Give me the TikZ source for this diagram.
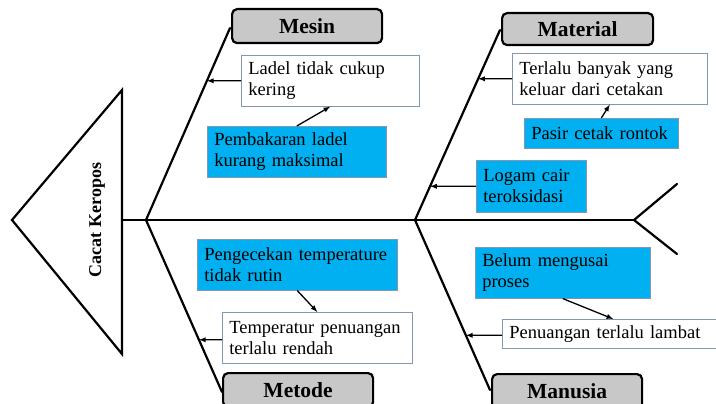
\documentclass[tikz,border=0pt]{standalone}
\usepackage{xcolor}
\usepackage{fontspec}
\setmainfont{Liberation Serif}
\usepackage{tikz}
\usetikzlibrary{calc}
\usetikzlibrary{intersections}

\definecolor{causeblue}{HTML}{00B0F0}
\definecolor{titlegray}{HTML}{C8C8C8}
\definecolor{boxedge}{HTML}{8497B0}

\begin{document}
\begin{tikzpicture}[x=1pt,y=-1pt,
	bone/.style={line width=2.2pt, line cap=round},
	arrowline/.style={->, >=latex, line width=1.3pt},
	titlebox/.style={draw=black, line width=2.2pt, fill=titlegray, rounded corners=5pt,
		anchor=north west, inner sep=0pt, font=\fontsize{21.5}{24}\selectfont\bfseries},
	causebox/.style={draw=boxedge, line width=0.6pt, fill=white, anchor=north west,
		align=left, inner xsep=7pt, inner ysep=0pt, font=\fontsize{18.5}{21}\selectfont},
	bluebox/.style={causebox, fill=causeblue}
	]

	\useasboundingbox (0,0) rectangle (716,404);
	\clip (0,0) rectangle (716,404);

	%spine
	\def\spineY{220}
	\coordinate (head)  at (122,\spineY);
	\coordinate (tail)  at (634,\spineY);
	\coordinate (leftRoot)  at (146,\spineY);
	\coordinate (rightRoot) at (415,\spineY);

	% fish head
	\draw[bone, line join=miter] (12,\spineY) -- (122,90) -- (122,354) -- cycle;
	\node[rotate=90, font=\fontsize{18}{20}\selectfont\bfseries] (effect) at (97,\spineY) {Cacat Keropos};

	% main line
	\draw[bone] (head) -- (tail);

	% fish tail
	\draw[bone] (tail) -- (677,184);
	\draw[bone] (tail) -- (677,254);

	% bones
	\draw[bone, name path=mesinBone]    (leftRoot)  -- (230,28);
	\draw[bone, name path=metodeBone]   (leftRoot)  -- (222,392);
	\draw[bone, name path=materialBone] (rightRoot) -- (500,30);
	\draw[bone, name path=manusiaBone]  (rightRoot) -- (490,390);

	% category boxes
	\node[titlebox, minimum width=150pt, minimum height=34pt] (mesin)    at (231,8)   {Mesin};
	\node[titlebox, minimum width=151pt, minimum height=32pt] (material) at (501,12)  {Material};
	\node[titlebox, minimum width=150pt, minimum height=34pt] (metode)   at (222,372) {Metode};
	\node[titlebox, minimum width=150pt, minimum height=35pt] (manusia)  at (491,373) {Manusia};

	% mesin causes
	\node[causebox, text width=164pt, minimum height=51pt] (ladel) at (241,55)
		{Ladel tidak cukup\\kering};
	\node[bluebox, text width=165pt, minimum height=51pt] (pembakaran) at (207,126)
		{Pembakaran ladel\\kurang maksimal};

	% material causes
	\node[causebox, text width=181pt, minimum height=51pt] (terlalu) at (512,53)
		{Terlalu banyak yang\\keluar dari cetakan};
	\node[bluebox, text width=140pt, minimum height=30pt] (pasir) at (524,118)
		{Pasir cetak rontok};
	\node[bluebox, text width=96pt, minimum height=52pt] (logam) at (476,160)
		{Logam cair\\teroksidasi};

	% metode causes
	\node[bluebox, text width=186pt, minimum height=51pt] (pengecekan) at (197,239)
		{Pengecekan temperature\\tidak rutin};
	\node[causebox, text width=176pt, minimum height=51pt] (temperatur) at (222,312)
		{Temperatur penuangan\\terlalu rendah};

	% manusia causes
	\node[bluebox, text width=161pt, minimum height=51pt] (belum) at (475,247)
		{Belum mengusai\\proses};
	\node[causebox, text width=216pt, minimum height=29pt] (penuangan) at (502,319)
		{Penuangan terlalu lambat};

	% rays towards the bones
	\path[name path=ladelRay]      (ladel.west)      -- ++(-150,0);
	\path[name path=terlaluRay]    (terlalu.west)    -- ++(-150,0);
	\path[name path=logamRay]      (logam.west)      -- ++(-150,0);
	\path[name path=temperaturRay] ([yshift=-2pt]temperatur.west) -- ++(-150,0);
	\path[name path=penuanganRay]  ([yshift=-1.5pt]penuangan.west)  -- ++(-150,0);

	\path[name intersections={of=mesinBone and ladelRay, by=ladelHit}];
	\path[name intersections={of=materialBone and terlaluRay, by=terlaluHit}];
	\path[name intersections={of=materialBone and logamRay, by=logamHit}];
	\path[name intersections={of=metodeBone and temperaturRay, by=temperaturHit}];
	\path[name intersections={of=manusiaBone and penuanganRay, by=penuanganHit}];

	% cause arrows
	\draw[arrowline] (ladel.west) -- (ladelHit);
	\draw[arrowline] (terlalu.west) -- (terlaluHit);
	\draw[arrowline] (logam.west) -- (logamHit);
	\draw[arrowline] ([yshift=-2pt]temperatur.west) -- (temperaturHit);
	\draw[arrowline] ([yshift=-1.5pt]penuangan.west) -- (penuanganHit);

	% sub cause arrows
	\draw[arrowline] (pembakaran.north) -- (ladel.south);
	\draw[arrowline] (pasir.north) -- (terlalu.south);
	\draw[arrowline] (pengecekan.south) -- (temperatur.north);
	\draw[arrowline] (belum.south) -- ([xshift=-4pt]penuangan.north);

\end{tikzpicture}
\end{document}
